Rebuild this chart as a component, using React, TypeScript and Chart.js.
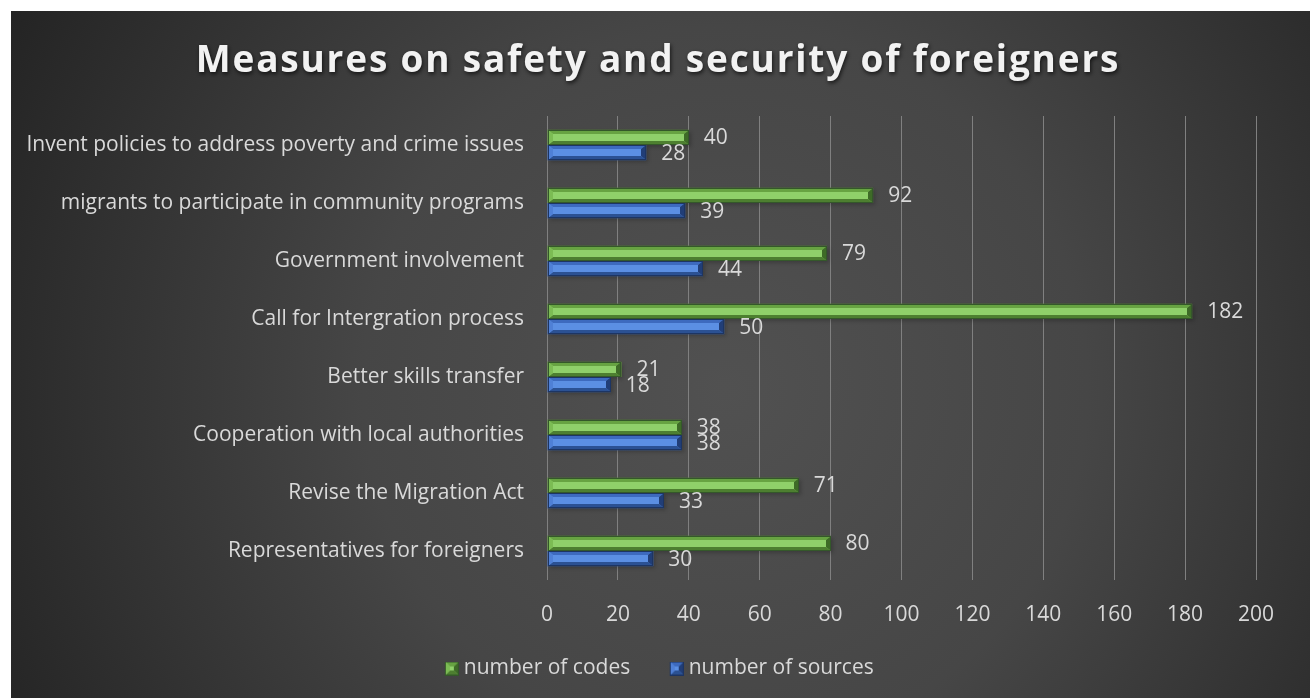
import React, { useEffect, useRef } from 'react';
import { Chart, registerables } from 'chart.js';
Chart.register(...registerables);

const chartTitle = 'Measures on safety and security of foreigners';
const categories = [
  'Invent policies to address poverty and crime issues',
  'migrants to participate in community programs',
  'Government involvement',
  'Call for Intergration process',
  'Better skills transfer',
  'Cooperation with local authorities',
  'Revise the Migration Act',
  'Representatives for foreigners',
];
const seriesNames = ['number of codes', 'number of sources'];
const codesValues = [40, 92, 79, 182, 21, 38, 71, 80];
const sourcesValues = [28, 39, 44, 50, 18, 38, 33, 30];
const xTickValues = [0, 20, 40, 60, 80, 100, 120, 140, 160, 180, 200];

const FONT = "'Open Sans', sans-serif";
const TEXT = '#d9d9d9';

type Pal = { base: string; top: string; center: string; bottom: string; left: string; right: string; edge: string };
const greenPal: Pal = { base: '#72ae48', top: '#67a342', center: '#8fd06a', bottom: '#4d7f30', left: '#7cbc54', right: '#3e6b27', edge: '#34582a' };
const bluePal: Pal = { base: '#4673c6', top: '#3d6abe', center: '#5b8fe3', bottom: '#2b5193', left: '#4f80d6', right: '#213e77', edge: '#1d3563' };
const palettes = [greenPal, bluePal];

function drawBevel(ctx: CanvasRenderingContext2D, l: number, t: number, r: number, b: number, p: Pal, s: number, se: number) {
  const poly = (pts: number[][], c: string) => {
    ctx.beginPath();
    ctx.moveTo(pts[0][0], pts[0][1]);
    for (let i = 1; i < pts.length; i++) ctx.lineTo(pts[i][0], pts[i][1]);
    ctx.closePath();
    ctx.fillStyle = c;
    ctx.fill();
  };
  poly([[l, t], [r, t], [r, b], [l, b]], p.center);
  poly([[l, t], [r, t], [r - se, t + s], [l + se, t + s]], p.top);
  poly([[l, b], [r, b], [r - se, b - s], [l + se, b - s]], p.bottom);
  poly([[l, t], [l + se, t + s], [l + se, b - s], [l, b]], p.left);
  poly([[r, t], [r - se, t + s], [r - se, b - s], [r, b]], p.right);
  ctx.strokeStyle = p.edge;
  ctx.lineWidth = 1;
  ctx.strokeRect(l + 0.5, t + 0.5, r - l - 1, b - t - 1);
}

// icon canvas 25 wide, box drawn at its right end so the text sits close to it
function legendIcon(p: Pal): HTMLCanvasElement {
  const c = document.createElement('canvas');
  c.width = 25;
  c.height = 14;
  const ctx = c.getContext('2d')!;
  drawBevel(ctx, 11, 0, 25, 14, p, 5, 5);
  return c;
}

const bgPlugin = {
  id: 'bgPlugin',
  afterLayout(chart: any) {
    // centre the legend row under the whole chart rather than the padded area
    if (chart.legend) chart.legend.left += 46;
  },
  beforeDraw(chart: any) {
    const { ctx, width, height } = chart;
    ctx.save();
    const g = ctx.createRadialGradient(width * 0.55, height * 0.55, 0, width * 0.55, height * 0.55, width * 0.62);
    g.addColorStop(0, '#515151');
    g.addColorStop(0.45, '#464646');
    g.addColorStop(1, '#242424');
    ctx.fillStyle = g;
    ctx.fillRect(0, 0, width, height);
    ctx.font = `bold 37px ${FONT}`;
    (ctx as any).letterSpacing = '1.8px';
    ctx.textAlign = 'center';
    ctx.textBaseline = 'middle';
    ctx.shadowColor = 'rgba(0,0,0,0.7)';
    ctx.shadowBlur = 4;
    ctx.shadowOffsetX = 1;
    ctx.shadowOffsetY = 2;
    ctx.fillStyle = '#f2f2f2';
    ctx.fillText(chartTitle, 647, 50);
    ctx.restore();
  },
};

const barPlugin = {
  id: 'barPlugin',
  beforeDatasetsDraw(chart: any) {
    const ctx = chart.ctx;
    ctx.save();
    chart.data.datasets.forEach((_: any, di: number) => {
      const meta = chart.getDatasetMeta(di);
      meta.data.forEach((bar: any) => {
        const h = bar.height;
        ctx.shadowColor = 'rgba(0,0,0,0.55)';
        ctx.shadowBlur = 4;
        ctx.shadowOffsetX = 2;
        ctx.shadowOffsetY = 2;
        ctx.fillStyle = 'rgba(0,0,0,0.4)';
        ctx.fillRect(bar.base, bar.y - h / 2, bar.x - bar.base, h);
      });
    });
    ctx.restore();
  },
  afterDatasetsDraw(chart: any) {
    const ctx = chart.ctx;
    ctx.save();
    chart.data.datasets.forEach((ds: any, di: number) => {
      const meta = chart.getDatasetMeta(di);
      meta.data.forEach((bar: any, i: number) => {
        const h = bar.height;
        const t = Math.round(bar.y - h / 2);
        const b = Math.round(bar.y + h / 2);
        drawBevel(ctx, Math.round(bar.base), t, Math.round(bar.x), b, palettes[di], 4, 5);
        ctx.font = `21px ${FONT}`;
        ctx.fillStyle = TEXT;
        ctx.textAlign = 'left';
        ctx.textBaseline = 'middle';
        ctx.fillText(String(ds.data[i]), bar.x + 15, bar.y + 1);
      });
    });
    ctx.restore();
  },
};

export default function App() {
  const ref = useRef<HTMLCanvasElement>(null);
  useEffect(() => {
    document.body.style.margin = '0';
    const chart = new Chart(ref.current!, {
      type: 'bar',
      data: {
        labels: categories,
        datasets: [
          { label: seriesNames[0], data: codesValues, backgroundColor: greenPal.base, borderWidth: 0 },
          { label: seriesNames[1], data: sourcesValues, backgroundColor: bluePal.base, borderWidth: 0 },
        ],
      },
      options: {
        indexAxis: 'y',
        animation: false,
        responsive: true,
        maintainAspectRatio: false,
        layout: { padding: { top: 105, right: 54, left: 0, bottom: 9 } },
        datasets: { bar: { categoryPercentage: 0.53, barPercentage: 1 } },
        scales: {
          x: {
            min: 0,
            max: 200,
            afterBuildTicks: (scale: any) => {
              scale.ticks = xTickValues.map((v) => ({ value: v }));
            },
            afterFit: (scale: any) => {
              scale.height = 44;
            },
            ticks: { color: TEXT, font: { family: FONT, size: 21 }, padding: 22 },
            grid: { color: '#808080', drawTicks: false, lineWidth: 1 },
            border: { display: false },
          },
          y: {
            afterFit: (scale: any) => {
              scale.width = 536;
            },
            ticks: { color: TEXT, font: { family: FONT, size: 21 }, padding: 15 },
            grid: { display: false },
            border: { display: false },
          },
        },
        plugins: {
          title: { display: false },
          tooltip: { enabled: false },
          legend: {
            position: 'bottom',
            labels: {
              color: TEXT,
              font: { family: FONT, size: 21 },
              usePointStyle: true,
              pointStyleWidth: 14,
              padding: 34,
              generateLabels: (chart: any) =>
                chart.data.datasets.map((ds: any, i: number) => ({
                  text: ds.label,
                  fontColor: TEXT,
                  pointStyle: legendIcon(palettes[i]),
                  datasetIndex: i,
                  hidden: false,
                  lineWidth: 0,
                })),
            },
          },
        },
      },
      plugins: [bgPlugin, barPlugin],
    });
    return () => chart.destroy();
  }, []);
  return (
    <div style={{ position: 'fixed', left: 11, top: 11, width: 1299, height: 687 }}>
      <canvas ref={ref} />
    </div>
  );
}
